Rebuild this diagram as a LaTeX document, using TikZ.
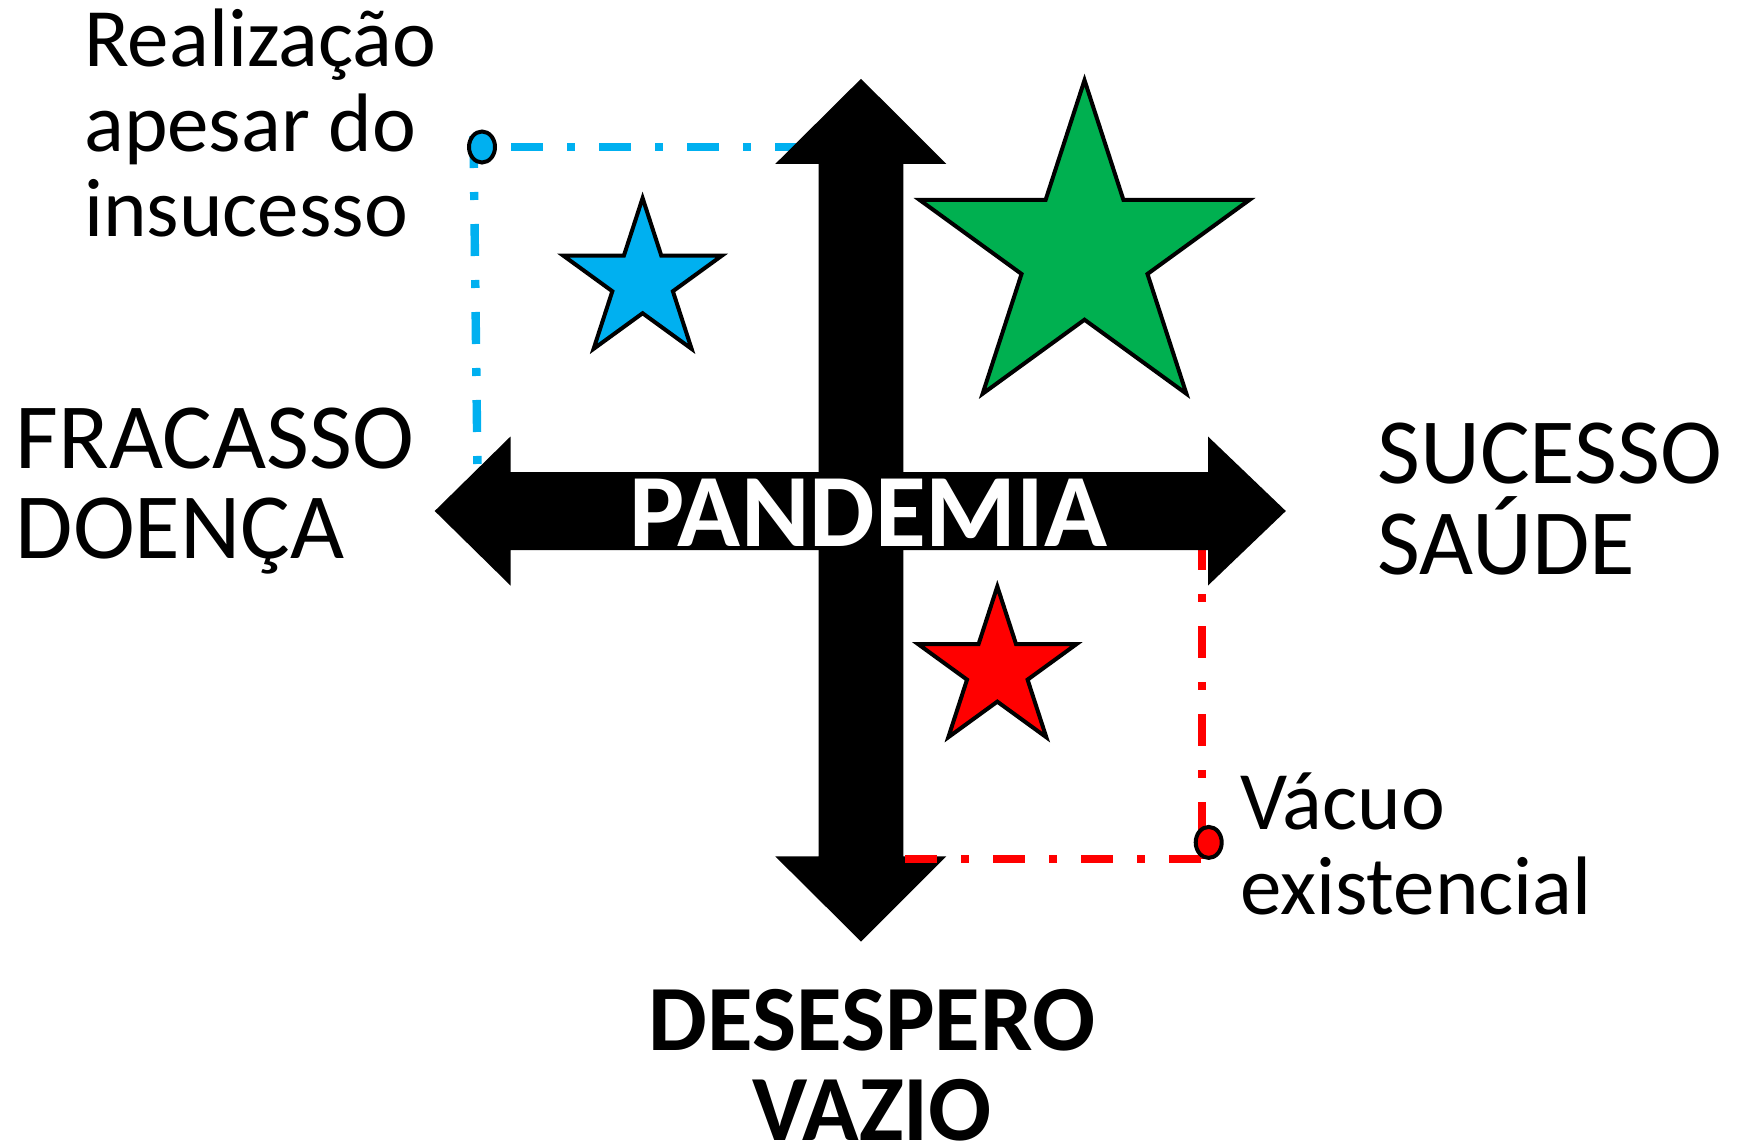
\documentclass[tikz,border=0pt]{standalone}
\usepackage{fontspec}
\setmainfont{Carlito}
\usetikzlibrary{shapes.geometric}
\definecolor{azul}{HTML}{00B0F0}
\definecolor{verde}{HTML}{00B050}
\definecolor{vermelho}{HTML}{FF0000}
\tikzset{estrela/.style = {star, star points=5, star point ratio=2.618,
                           draw=black, line width=3pt, inner sep=0pt},
         tracejado/.style = {line width=6.3pt,
                             dash pattern=on 24pt off 18pt on 6pt off 18pt},
         ponto/.style = {draw=black, line width=3pt},
         rotulo/.style = {anchor=base west, align=left, inner sep=0pt}}

\begin{document}
\begin{tikzpicture}[x=0.75pt, y=-0.75pt]
        \useasboundingbox (0,0) rectangle (1737,1143);
        \draw[tracejado, azul] (511,147) -- (800,147);
        \draw[tracejado, azul] (473.5,136) -- (477.5,470);
        \draw[tracejado, vermelho] (1202,538) -- (1202,859);
        % setas
        \fill (861,78.8) -- (946.3,163.9) -- (903.3,163.9) -- (903.3,856.4) -- (946.3,856.4)
              -- (861,941.5) -- (775.3,856.4) -- (818.6,856.4) -- (818.6,163.9) -- (775.3,163.9) -- cycle;
        \fill (434.7,511) -- (510.5,436.5) -- (510.5,472) -- (1208,472) -- (1208,436.5)
              -- (1285.8,511) -- (1208,585.5) -- (1208,550) -- (510.5,550) -- (510.5,585.5) -- cycle;
        \node[anchor=base, inner sep=0pt, text=white, font=\bfseries\fontsize{78}{80}\selectfont]
              (pandemia) at (868.5,546.4) {PANDEMIA};
        \draw[tracejado, vermelho] (905,859) -- (1201,859);
        \draw[ponto, fill=azul] (482,147) ellipse [x radius=13, y radius=15.5];
        \draw[ponto, fill=vermelho] (1208.7,842.4) ellipse [x radius=13, y radius=15.5];
        % estrelas
        \node[estrela, fill=azul, minimum size=125pt] (estrelaazul) at (642.6,281.4) {};
        \node[estrela, fill=verde, minimum size=260pt] (estrelaverde) at (1084.5,253.5) {};
        \node[estrela, fill=vermelho, minimum size=125pt] (estrelavermelha) at (997.3,669.8) {};
        % rotulos
        \node[rotulo, font=\fontsize{62.25}{63.8}\selectfont] (realizacao) at (84,236.8)
              {Realização\\apesar do\\insucesso};
        \node[rotulo, font=\fontsize{70}{67.5}\selectfont] (fracasso) at (15.5,558.6) {FRACASSO\\DOENÇA};
        \node[rotulo, font=\fontsize{70}{68.2}\selectfont] (sucesso) at (1377,574) {SUCESSO\\SAÚDE};
        \node[anchor=base, align=center, inner sep=0pt, font=\bfseries\fontsize{70}{67.5}\selectfont]
              (desespero) at (872,1140) {DESESPERO\\VAZIO};
        \node[rotulo, font=\fontsize{62.25}{63.8}\selectfont] (vacuo) at (1240,914.5) {Vácuo\\existencial};
\end{tikzpicture}
\end{document}
